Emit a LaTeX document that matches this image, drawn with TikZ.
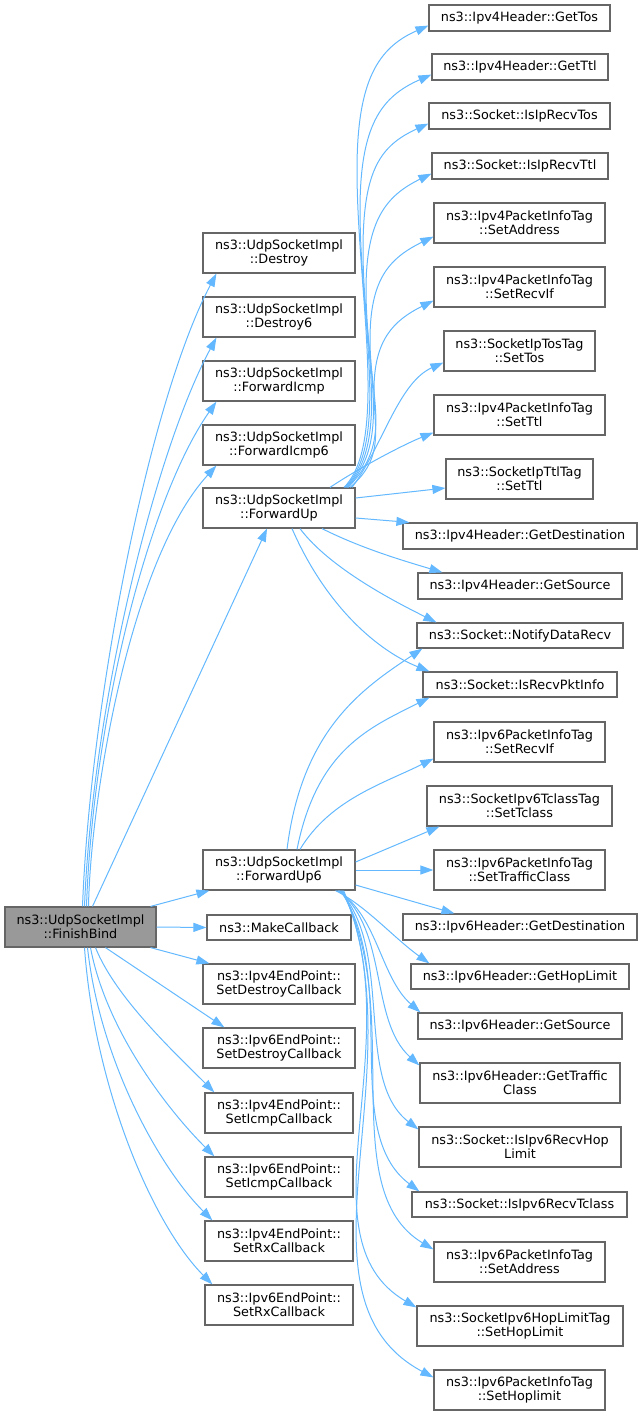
\documentclass[tikz,border=0pt]{standalone}
\usepackage{fontspec}
\setmainfont{DejaVu Sans}
\usetikzlibrary{arrows.meta}
\definecolor{edgeblue}{RGB}{99,184,255}
\definecolor{boxgray}{RGB}{102,102,102}
\definecolor{rootgray}{RGB}{153,153,153}

\begin{document}
\begin{tikzpicture}[x=1pt,y=-1pt,font=\fontsize{12.8}{14}\selectfont,
	call/.style={draw=boxgray,fill=white,line width=1.2pt,inner sep=0pt,minimum height=40pt,align=center},
	callline/.style={call,minimum height=26pt},
	calls/.style={draw=edgeblue,line width=1pt,-{Triangle[length=13pt,width=9pt]}}]
	\useasboundingbox (0,0) rectangle (643,1415);
	\node[call,fill=rootgray,minimum width=151pt] (finishBind) at (80.5,927) {ns3::UdpSocketImpl\\::FinishBind};
	\node[call,minimum width=152pt] (destroy) at (279,253) {ns3::UdpSocketImpl\\::Destroy};
	\node[call,minimum width=152pt] (destroySix) at (279,317) {ns3::UdpSocketImpl\\::Destroy6};
	\node[call,minimum width=152pt] (fwdIcmp) at (279,381) {ns3::UdpSocketImpl\\::ForwardIcmp};
	\node[call,minimum width=152pt] (fwdIcmpSix) at (279,445) {ns3::UdpSocketImpl\\::ForwardIcmp6};
	\node[call,minimum width=152pt] (fwdUp) at (279,508) {ns3::UdpSocketImpl\\::ForwardUp};
	\node[call,minimum width=152pt] (fwdUpSix) at (279,870) {ns3::UdpSocketImpl\\::ForwardUp6};
	\node[callline,minimum width=144pt,minimum height=25pt] (makeCb) at (279,927.5) {ns3::MakeCallback};
	\node[call,minimum width=152pt] (epfourDestroy) at (279,984) {ns3::Ipv4EndPoint::\\SetDestroyCallback};
	\node[call,minimum width=152pt] (epsixDestroy) at (279,1048) {ns3::Ipv6EndPoint::\\SetDestroyCallback};
	\node[call,minimum width=148pt] (epfourIcmp) at (279,1113) {ns3::Ipv4EndPoint::\\SetIcmpCallback};
	\node[call,minimum width=148pt] (epsixIcmp) at (279,1177) {ns3::Ipv6EndPoint::\\SetIcmpCallback};
	\node[call,minimum width=148pt] (epfourRx) at (279,1241) {ns3::Ipv4EndPoint::\\SetRxCallback};
	\node[call,minimum width=148pt] (epsixRx) at (279,1305) {ns3::Ipv6EndPoint::\\SetRxCallback};

	\node[callline,minimum width=181pt] (getTos) at (519.5,18) {ns3::Ipv4Header::GetTos};
	\node[callline,minimum width=176pt] (getTtl) at (520,67) {ns3::Ipv4Header::GetTtl};
	\node[callline,minimum width=181pt] (isIpRecvTos) at (519.5,116) {ns3::Socket::IsIpRecvTos};
	\node[callline,minimum width=176pt] (isIpRecvTtl) at (520,166) {ns3::Socket::IsIpRecvTtl};
	\node[call,minimum width=171pt] (fourSetAddress) at (519.5,223) {ns3::Ipv4PacketInfoTag\\::SetAddress};
	\node[call,minimum width=171pt] (fourSetRecvIf) at (519.5,287) {ns3::Ipv4PacketInfoTag\\::SetRecvIf};
	\node[call,minimum width=151pt] (tosSetTos) at (519.5,351) {ns3::SocketIpTosTag\\::SetTos};
	\node[call,minimum width=171pt] (fourSetTtl) at (519.5,415) {ns3::Ipv4PacketInfoTag\\::SetTtl};
	\node[call,minimum width=147pt] (ttlSetTtl) at (519.5,479) {ns3::SocketIpTtlTag\\::SetTtl};
	\node[callline,minimum width=234pt] (fourGetDest) at (520,536) {ns3::Ipv4Header::GetDestination};
	\node[callline,minimum width=204pt] (fourGetSource) at (520,586) {ns3::Ipv4Header::GetSource};
	\node[callline,minimum width=206pt,minimum height=25pt] (notify) at (520,635.5) {ns3::Socket::NotifyDataRecv};
	\node[callline,minimum width=194pt,minimum height=25pt] (isRecvPktInfo) at (520,684.5) {ns3::Socket::IsRecvPktInfo};
	\node[call,minimum width=171pt] (sixSetRecvIf) at (519.5,742) {ns3::Ipv6PacketInfoTag\\::SetRecvIf};
	\node[call,minimum width=185pt] (tclassSetTclass) at (519.5,806) {ns3::SocketIpv6TclassTag\\::SetTclass};
	\node[call,minimum width=171pt] (sixSetTrafficClass) at (519.5,870) {ns3::Ipv6PacketInfoTag\\::SetTrafficClass};
	\node[callline,minimum width=234pt] (sixGetDest) at (520,927) {ns3::Ipv6Header::GetDestination};
	\node[callline,minimum width=218pt,minimum height=25pt] (sixGetHopLimit) at (520,976.5) {ns3::Ipv6Header::GetHopLimit};
	\node[callline,minimum width=204pt] (sixGetSource) at (520,1026) {ns3::Ipv6Header::GetSource};
	\node[call,minimum width=200pt] (sixGetTrafficClass) at (520,1083) {ns3::Ipv6Header::GetTraffic\\Class};
	\node[call,minimum width=202pt] (isIpvsixRecvHopLimit) at (520,1147) {ns3::Socket::IsIpv6RecvHop\\Limit};
	\node[callline,minimum width=215pt,minimum height=25pt] (isIpvsixRecvTclass) at (519.5,1204.5) {ns3::Socket::IsIpv6RecvTclass};
	\node[call,minimum width=171pt] (sixSetAddress) at (519.5,1262) {ns3::Ipv6PacketInfoTag\\::SetAddress};
	\node[call,minimum width=206pt] (hopSetHopLimit) at (520,1326) {ns3::SocketIpv6HopLimitTag\\::SetHopLimit};
	\node[call,minimum width=171pt] (sixSetHoplimit) at (519.5,1390) {ns3::Ipv6PacketInfoTag\\::SetHoplimit};

	\draw[calls] ([xshift=2pt]finishBind.north) .. controls +(8,-207) and +(-67,127) .. ([xshift=14pt]destroy.south west);
	\draw[calls] ([xshift=4pt]finishBind.north) .. controls +(8,-200) and +(-62,115) .. ([xshift=14pt]destroySix.south west);
	\draw[calls] ([xshift=6pt]finishBind.north) .. controls +(6,-180) and +(-70,100) .. ([xshift=14pt]fwdIcmp.south west);
	\draw[calls] ([xshift=8pt]finishBind.north) .. controls +(2,-107) and +(-87,95) .. ([xshift=14pt]fwdIcmpSix.south west);
	\draw[calls] ([xshift=12pt]finishBind.north) -- ([xshift=-12pt]fwdUp.south);
	\draw[calls] ([xshift=-6pt]finishBind.north east) -- ([xshift=7pt]fwdUpSix.south west);
	\draw[calls] (finishBind.east) -- (makeCb.west);
	\draw[calls] ([xshift=-6pt]finishBind.south east) -- ([xshift=7pt]epfourDestroy.north west);
	\draw[calls] ([xshift=25pt]finishBind.south) -- ([xshift=22pt]epsixDestroy.north west);
	\draw[calls] ([xshift=15pt]finishBind.south) .. controls +(20,50) and +(-40,-40) .. ([xshift=10pt]epfourIcmp.north west);
	\draw[calls] ([xshift=10pt]finishBind.south) .. controls +(15,80) and +(-50,-50) .. ([xshift=10pt]epsixIcmp.north west);
	\draw[calls] ([xshift=7pt]finishBind.south) .. controls +(12,110) and +(-55,-55) .. ([xshift=8pt]epfourRx.north west);
	\draw[calls] ([xshift=4pt]finishBind.south) .. controls +(10,140) and +(-60,-60) .. ([xshift=8pt]epsixRx.north west);

	\draw[calls] ([xshift=65pt]fwdUp.north) .. controls +(45,-45) and +(0,120) .. (357,170) .. controls +(0,-90) and +(-50,22) .. ([yshift=6pt]getTos.south west);
	\draw[calls] ([xshift=66pt]fwdUp.north) .. controls +(45,-45) and +(0,110) .. (360,210) .. controls +(0,-85) and +(-50,22) .. ([yshift=6pt]getTtl.south west);
	\draw[calls] ([xshift=67pt]fwdUp.north) .. controls +(45,-45) and +(0,95) .. (363,250) .. controls +(0,-80) and +(-48,22) .. ([yshift=6pt]isIpRecvTos.south west);
	\draw[calls] ([xshift=68pt]fwdUp.north) .. controls +(45,-45) and +(0,80) .. (366,290) .. controls +(0,-70) and +(-45,22) .. ([yshift=6pt]isIpRecvTtl.south west);
	\draw[calls] ([xshift=69pt]fwdUp.north) .. controls +(45,-45) and +(0,60) .. (370,340) .. controls +(0,-60) and +(-45,22) .. ([yshift=7pt]fourSetAddress.south west);
	\draw[calls] ([xshift=71pt]fwdUp.north) .. controls +(35,-30) and +(0,40) .. (374,390) .. controls +(0,-50) and +(-40,20) .. ([yshift=7pt]fourSetRecvIf.south west);
	\draw[calls] ([xshift=73pt]fwdUp.north) .. controls +(30,-40) and +(-45,20) .. ([yshift=9pt]tosSetTos.south west);
	\draw[calls] ([xshift=51pt]fwdUp.north) .. controls +(30,-20) and +(-30,12) .. ([yshift=3pt]fourSetTtl.south west);
	\draw[calls] ([yshift=10pt]fwdUp.east) -- ([yshift=-9pt]ttlSetTtl.west);
	\draw[calls] ([yshift=-10pt]fwdUp.east) -- ([xshift=7pt]fourGetDest.north west);
	\draw[calls] ([xshift=43pt]fwdUp.south) .. controls +(40,20) and +(-40,-12) .. ([xshift=25pt]fourGetSource.north west);
	\draw[calls] ([xshift=21pt]fwdUp.south) .. controls +(30,40) and +(-40,-20) .. ([xshift=20pt]notify.north west);
	\draw[calls] ([xshift=13pt]fwdUp.south) .. controls +(35,80) and +(-50,-20) .. ([xshift=7pt]isRecvPktInfo.north west);

	\draw[calls] ([xshift=8pt]fwdUpSix.north) .. controls +(15,-120) and +(-60,40) .. ([xshift=6pt]notify.south west);
	\draw[calls] ([xshift=18pt]fwdUpSix.north) .. controls +(20,-100) and +(-60,30) .. ([xshift=7pt]isRecvPktInfo.south west);
	\draw[calls] ([xshift=21pt]fwdUpSix.north) .. controls +(30,-50) and +(-50,25) .. ([yshift=4pt]sixSetRecvIf.south west);
	\draw[calls] ([yshift=8pt]fwdUpSix.east) -- ([xshift=13pt]tclassSetTclass.south west);
	\draw[calls] (fwdUpSix.east) -- (sixSetTrafficClass.west);
	\draw[calls] ([yshift=-15pt]fwdUpSix.east) -- ([xshift=52pt]sixGetDest.north west);
	\draw[calls] ([xshift=-20pt]fwdUpSix.south east) .. controls +(30,15) and +(-35,-25) .. ([xshift=19pt]sixGetHopLimit.north west);
	\draw[calls] ([xshift=-18pt]fwdUpSix.south east) .. controls +(40,25) and +(-40,-35) .. ([xshift=3pt]sixGetSource.north west);
	\draw[calls] ([xshift=-17pt]fwdUpSix.south east) .. controls +(50,40) and +(-50,-45) .. ([yshift=-3pt]sixGetTrafficClass.north west);
	\draw[calls] ([xshift=-16pt]fwdUpSix.south east) .. controls +(55,60) and +(-65,-50) .. ([yshift=-3pt]isIpvsixRecvHopLimit.north west);
	\draw[calls] ([xshift=-15pt]fwdUpSix.south east) .. controls +(60,90) and +(-80,-60) .. ([xshift=8pt]isIpvsixRecvTclass.north west);
	\draw[calls] ([xshift=-14pt]fwdUpSix.south east) .. controls +(65,120) and +(-100,-60) .. ([yshift=-8pt]sixSetAddress.north west);
	\draw[calls] ([xshift=-13pt]fwdUpSix.south east) .. controls +(70,150) and +(-120,-70) .. ([yshift=-2pt]hopSetHopLimit.north west);
	\draw[calls] ([xshift=-12pt]fwdUpSix.south east) .. controls +(75,180) and +(-150,-80) .. ([yshift=-8pt]sixSetHoplimit.north west);
\end{tikzpicture}
\end{document}
